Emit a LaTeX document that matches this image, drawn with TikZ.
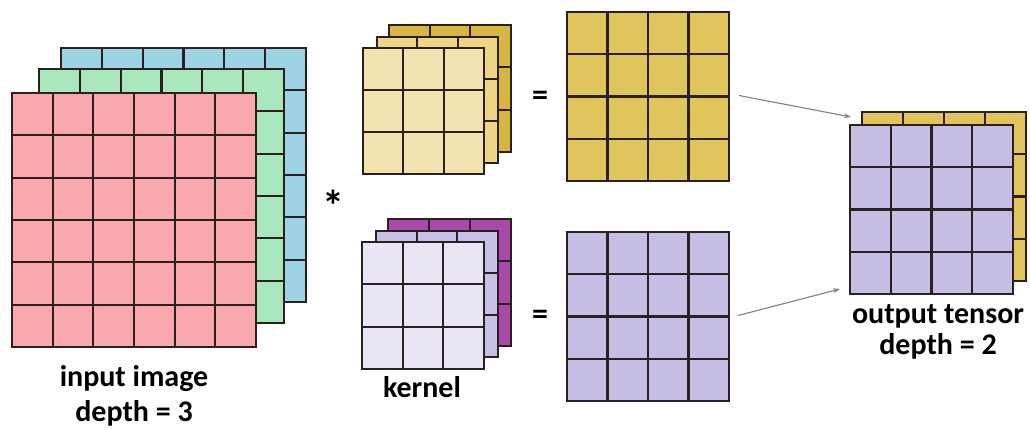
\documentclass[tikz,border=0pt]{standalone}
\usepackage{fontspec}
\setmainfont{Carlito}
\usetikzlibrary{arrows.meta,calc}
\definecolor{gridc}{HTML}{2A2020}
\definecolor{inred}{HTML}{F9A9AE}
\definecolor{ingreen}{HTML}{A9E8BC}
\definecolor{inblue}{HTML}{9DD3E3}
\definecolor{kyfront}{HTML}{F2E3B1}
\definecolor{kymid}{HTML}{EDD486}
\definecolor{kyback}{HTML}{D8B442}
\definecolor{kpfront}{HTML}{E9E5F5}
\definecolor{kpmid}{HTML}{C7C0E6}
\definecolor{kpback}{HTML}{A94AA9}
\definecolor{outyellow}{HTML}{DFC55C}
\definecolor{outpurple}{HTML}{C5BDE4}
\definecolor{arrowgray}{HTML}{808080}
\tikzset{
  layerbox/.style={draw=gridc, line width=2.3pt, inner sep=0pt, outer sep=0pt, rectangle},
  gridline/.style={draw=gridc, line width=2.3pt},
  lbl/.style={font=\bfseries\fontsize{30}{35}\selectfont, align=center, inner sep=0pt},
  opsym/.style={font=\bfseries\fontsize{32}{32}\selectfont, inner sep=0pt},
  conn/.style={draw=arrowgray, line width=1.1pt, -{Stealth[length=7pt,width=5pt]}},
}
% name, x0, y0, x1, y1, n, fill
\newcommand\gridlayer[7]{%
  \node[layerbox, fill=#7, minimum width={(#4-#2)*1pt}, minimum height={(#5-#3)*1pt}] (#1) at ({(#2+#4)/2},{(#3+#5)/2}) {};
  \pgfmathtruncatemacro\gridnm{#6-1}
  \foreach \k in {1,...,\gridnm} {
    \draw[gridline] ({#2+\k*(#4-#2)/#6},#3) -- ({#2+\k*(#4-#2)/#6},#5);
    \draw[gridline] (#2,{#3+\k*(#5-#3)/#6}) -- (#4,{#3+\k*(#5-#3)/#6});
  }
}
\begin{document}
\begin{tikzpicture}[x=1pt,y=-1pt]
\useasboundingbox[fill=white] (0,0) rectangle (1030,430);
% input image
\gridlayer{inB}{61}{48}{306}{302}{6}{inblue}
\gridlayer{inG}{39}{69}{284}{323}{6}{ingreen}
\gridlayer{inR}{12}{93}{256}{347}{6}{inred}
% kernel 1
\gridlayer{k1B}{389}{25}{511}{152}{3}{kyback}
\gridlayer{k1M}{377}{37}{498}{163}{3}{kymid}
\gridlayer{k1F}{363}{48}{484}{174}{3}{kyfront}
% kernel 2
\gridlayer{k2B}{388}{219}{511}{346}{3}{kpback}
\gridlayer{k2M}{376}{231}{498}{357}{3}{kpmid}
\gridlayer{k2F}{362}{242}{484}{369}{3}{kpfront}
% outputs
\gridlayer{yout}{567}{12}{729}{181}{4}{outyellow}
\gridlayer{pout}{567}{232}{729}{401}{4}{outpurple}
% output tensor
\gridlayer{tB}{862}{112}{1026}{281}{4}{outyellow}
\gridlayer{tF}{850}{125}{1013}{294}{4}{outpurple}
% symbols
\node[opsym, anchor=base, font=\bfseries\fontsize{44}{44}\selectfont] (star) at (333,222) {*};
\node[opsym, anchor=base] (eq1) at (540,106) {=};
\node[opsym, anchor=base] (eq2) at (540,324) {=};
% labels
\node[lbl, anchor=north] (inlbl) at (134,365) {input image\\depth = 3};
\node[lbl, anchor=base] (klbl) at (422,397) {kernel};
\node[lbl, anchor=north, font=\bfseries\fontsize{30}{31}\selectfont] (outlbl) at (938,304) {output tensor\\depth = 2};
% connectors
\coordinate (a1s) at ($(yout.east)+(10,-1)$);
\coordinate (a1e) at ($(tF.north west)+(1,-8)$);
\coordinate (a2s) at ($(pout.east)+(9,-1)$);
\coordinate (a2e) at ($(tF.south west)+(-10,-5)$);
\draw[conn] (a1s) -- (a1e);
\draw[conn] (a2s) -- (a2e);
\end{tikzpicture}
\end{document}
